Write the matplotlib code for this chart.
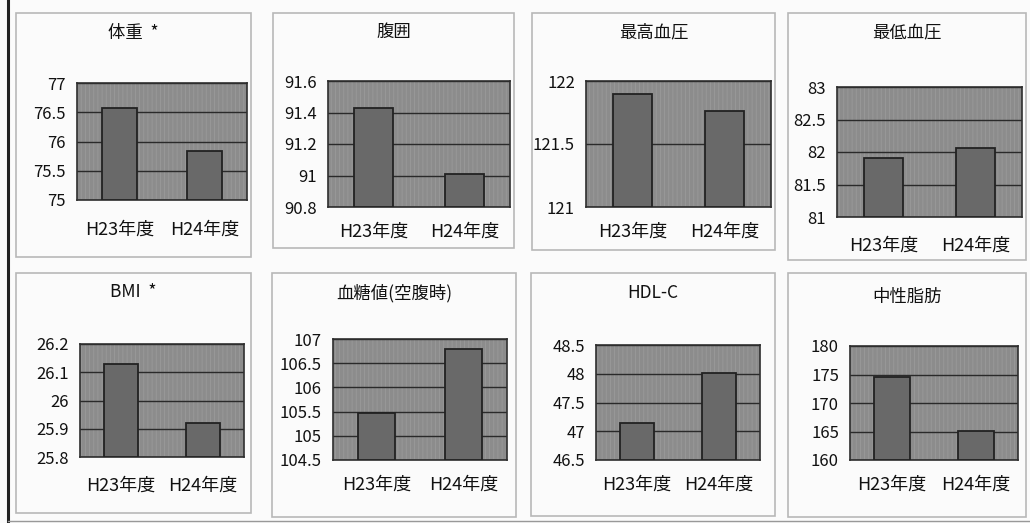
import matplotlib
matplotlib.use("Agg")
import matplotlib.pyplot as plt
from matplotlib.patches import Rectangle

plt.rcParams['font.family'] = ['Noto Sans CJK JP', 'DejaVu Sans']
plt.rcParams['hatch.linewidth'] = 0.6

years = ["H23年度", "H24年度"]

titles = ["体重  *", "腹囲", "最高血圧", "最低血圧",
          "BMI  *", "血糖値(空腹時)", "HDL-C", "中性脂肪"]

weight = [76.57, 75.83]
waist = [91.43, 91.01]
sbp = [121.90, 121.76]
dbp = [81.91, 82.06]
bmi = [26.13, 25.92]
glucose = [105.47, 106.79]
hdl = [47.14, 48.02]
tg = [174.6, 165.1]

# axis ranges and tick steps per panel
ranges = [(75, 77, 0.5), (90.8, 91.6, 0.2), (121, 122, 0.5), (81, 83, 0.5),
          (25.8, 26.2, 0.1), (104.5, 107, 0.5), (46.5, 48.5, 0.5), (160, 180, 5)]

series = [weight, waist, sbp, dbp, bmi, glucose, hdl, tg]

W, H = 1030, 523

# pixel boxes: (left, top, right, bottom)
panels = [(16, 13, 251, 257), (273, 13, 514, 248), (532, 13, 775, 250), (788, 13, 1026, 260),
          (16, 273, 251, 513), (272, 273, 516, 517), (531, 273, 775, 516), (788, 273, 1026, 517)]
plots = [(77, 83, 247, 200), (328, 81, 510, 207), (586, 81, 771, 207), (837, 87, 1022, 217),
         (80, 344, 244, 457), (333, 339, 507, 460), (596, 345, 760, 460), (850, 346, 1018, 460)]
title_y = [33, 32, 32, 33, 292, 293, 293, 297]
xpad = [15, 11, 11, 14, 14, 11, 11, 11]


def fig_rect(box):
    l, t, r, b = box
    return [l / W, 1 - b / H, (r - l) / W, (b - t) / H]


fig = plt.figure(figsize=(W / 100, H / 100), dpi=100)
fig.patch.set_facecolor('#fbfbfb')

# outer frame line on the left
fig.add_artist(plt.Line2D([8 / W, 8 / W], [0, 1], color='#222222', lw=2.2))
fig.add_artist(plt.Line2D([8 / W, 1], [1 - 521 / H, 1 - 521 / H], color='#999999', lw=1))

for i in range(8):
    pl, pt, pr, pb = panels[i]
    fig.add_artist(Rectangle((pl / W, 1 - pb / H), (pr - pl) / W, (pb - pt) / H,
                             transform=fig.transFigure, fill=False,
                             edgecolor='#b8b8b8', lw=1.2))
    fig.text((pl + pr) / 2 / W, 1 - title_y[i] / H, titles[i],
             ha='center', va='center', fontsize=12.5, color='#111111')

    ax = fig.add_axes(fig_rect(plots[i]))
    lo, hi, step = ranges[i]
    ax.set_facecolor('#8c8c8c')
    # fine vertical streaks over the plot area
    ax.add_patch(Rectangle((0, 0), 1, 1, transform=ax.transAxes, fill=False,
                           hatch='||||', edgecolor='#9a9a9a', lw=0, zorder=0.5))
    ax.bar([0, 1], [v - lo for v in series[i]], bottom=lo, width=0.42,
           color='#696969', edgecolor='#222222', linewidth=1.3, zorder=3)
    n = int(round((hi - lo) / step))
    ticks = [lo + k * step for k in range(n + 1)]
    ax.set_yticks(ticks)
    ax.set_yticklabels([f"{t:g}" for t in ticks])
    ax.set_ylim(lo, hi)
    ax.set_xlim(-0.5, 1.5)
    ax.set_xticks([0, 1])
    ax.set_xticklabels(years)
    ax.yaxis.grid(True, color='#2a2a2a', lw=1.0, zorder=1)
    ax.set_axisbelow(True)
    ax.tick_params(axis='both', length=0, colors='#111111')
    ax.tick_params(axis='x', pad=xpad[i], labelsize=13)
    ax.tick_params(axis='y', pad=8, labelsize=12)
    for s in ax.spines.values():
        s.set_color('#2e2e2e')
        s.set_linewidth(1.2)

fig.savefig("out.png", dpi=100, facecolor=fig.get_facecolor())
